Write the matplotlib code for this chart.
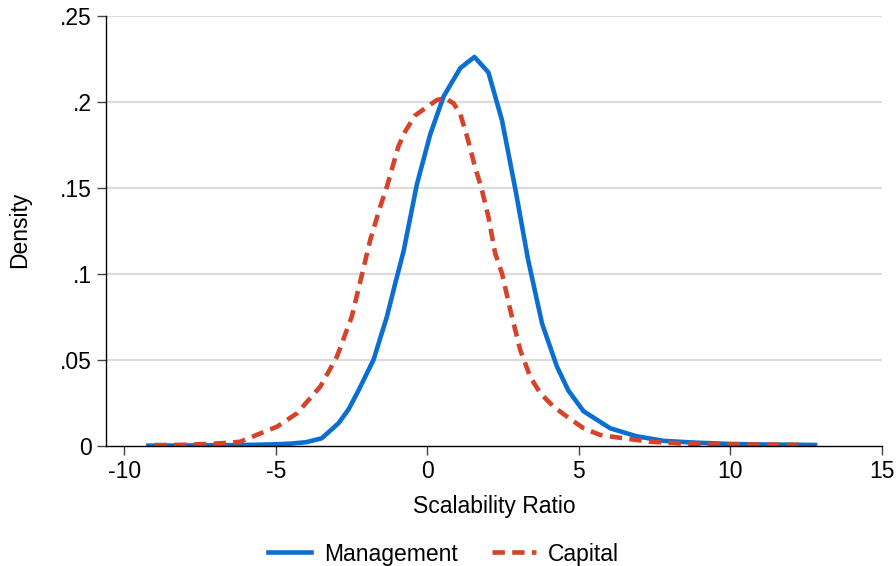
import numpy as np
import matplotlib.pyplot as plt

plt.rcParams['font.family'] = ['Liberation Sans', 'DejaVu Sans']

# kernel density
mgmt_x = [-9.2, -8.0, -7.0, -6.0, -5.0, -4.5, -4.0, -3.48, -2.93, -2.6, -2.27,
          -1.77, -1.33, -1.06, -0.78, -0.34, 0.1, 0.54, 1.09, 1.56, 2.02, 2.47,
          2.92, 3.33, 3.79, 4.28, 4.66, 5.16, 6.04, 6.9, 7.8, 8.8, 10.0, 11.0, 12.8]
mgmt_y = [0.0, 0.0001, 0.0002, 0.0004, 0.0008, 0.0012, 0.002, 0.0043, 0.013, 0.021, 0.032,
          0.05, 0.075, 0.094, 0.113, 0.152, 0.181, 0.203, 0.2195, 0.226, 0.217, 0.189,
          0.148, 0.108, 0.071, 0.046, 0.032, 0.020, 0.0101, 0.0055, 0.0028, 0.0018, 0.001, 0.0007, 0.0004]

cap_x = [-9.0, -8.0, -7.27, -6.5, -6.17, -5.5, -4.96, -4.3, -3.53, -2.98, -2.49,
         -2.16, -1.88, -1.55, -1.33, -0.95, -0.73, -0.4, 0.0, 0.32, 0.6, 0.87, 1.09,
         1.31, 1.58, 1.8, 2.02, 2.24, 2.47, 2.74, 3.07, 3.4, 3.73, 4.17, 4.61, 5.16,
         5.71, 6.48, 7.36, 8.5, 10.0, 11.0, 12.25]
cap_y = [0.0003, 0.0005, 0.001, 0.0017, 0.0023, 0.0072, 0.011, 0.0188, 0.0343, 0.0517, 0.075,
         0.099, 0.1196, 0.139, 0.1506, 0.174, 0.1826, 0.192, 0.197, 0.201, 0.202, 0.199, 0.193,
         0.18, 0.162, 0.149, 0.133, 0.112, 0.1, 0.079, 0.0556, 0.040, 0.0305, 0.0227, 0.0169, 0.0101,
         0.0062, 0.0043, 0.0023, 0.0012, 0.0008, 0.0006, 0.0005]

x_ticks = [-10, -5, 0, 5, 10, 15]
y_ticks = [0, 0.05, 0.1, 0.15, 0.2, 0.25]
y_labels = ['0', '.05', '.1', '.15', '.2', '.25']

blue = '#0b6fd1'
red = '#d4432a'
fs = 16.5

fig = plt.figure(figsize=(8.96, 5.66), dpi=100)
ax = fig.add_axes([0.1183, 0.2126, 0.9841 - 0.1183, 0.9723 - 0.2126])

for y in y_ticks[1:]:
    ax.axhline(y, color='#dcdcdc', lw=1.6, zorder=0)

ax.plot(mgmt_x, mgmt_y, color=blue, lw=3.3, label='Management')
ax.plot(cap_x, cap_y, color=red, lw=3.3, dashes=(2.7, 1.6), label='Capital')

ax.set_xlim(-10.6, 15)
ax.set_ylim(0, 0.25)
ax.set_xticks(x_ticks)
ax.set_xticklabels([str(v) for v in x_ticks])
ax.set_yticks(y_ticks)
ax.set_yticklabels(y_labels)

for s in ['top', 'right']:
    ax.spines[s].set_visible(False)
for s in ['left', 'bottom']:
    ax.spines[s].set_linewidth(1.0)
    ax.spines[s].set_color('black')

ax.tick_params(axis='both', direction='out', length=6.5, width=1.0, color='#444444',
               labelsize=fs, pad=3.5)
ax.set_xlabel('Scalability Ratio', fontsize=fs)
ax.set_ylabel('Density', fontsize=fs)
ax.xaxis.set_label_coords(0.5, -(507 - 445.7) / (445.7 - 15.7), transform=ax.transAxes)
ax.yaxis.set_label_coords(-(106 - 20) / (881.7 - 106), 0.5 - (230 - 230.7) / 430)
ax.xaxis.label.set_va('center')
ax.yaxis.label.set_va('center')

fig.legend(loc='center', bbox_to_anchor=(0.495, 1 - 554 / 566), ncol=2, frameon=False,
           fontsize=fs, handlelength=1.9, handletextpad=0.55, columnspacing=1.5)

fig.savefig('out.png', dpi=100)
